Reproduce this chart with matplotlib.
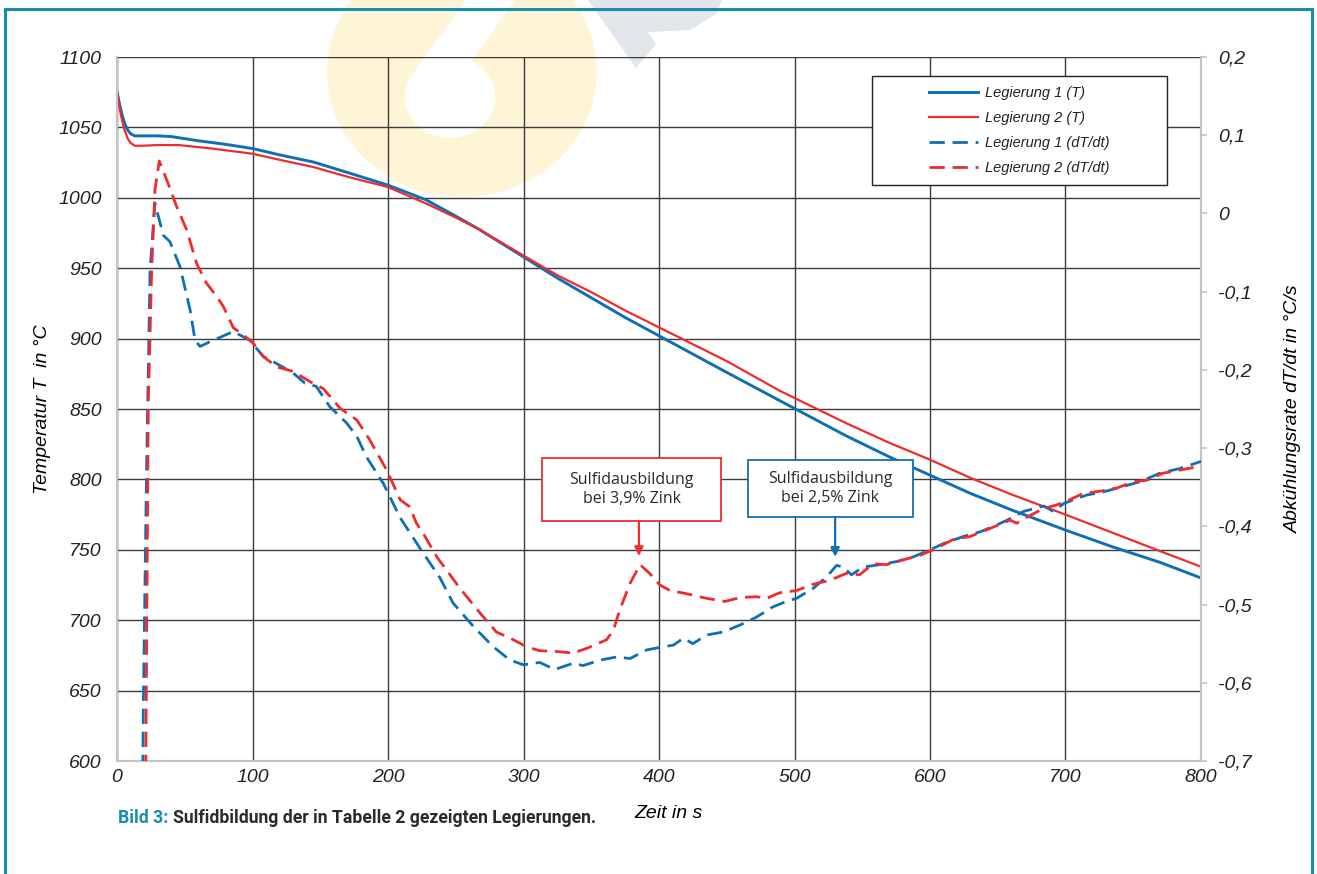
import matplotlib
matplotlib.use("Agg")
import matplotlib.pyplot as plt
from matplotlib.patches import Rectangle, Ellipse, Polygon
from matplotlib.lines import Line2D
from matplotlib.ticker import FuncFormatter

# Temperaturverlauf (linke Achse, °C)
t_T1 = [0, 2, 4, 6, 8, 10, 13, 20, 30, 40, 60, 80, 100, 120, 145, 170, 200, 228, 250, 267,
        300, 325, 350, 375, 400, 425, 450, 489, 538, 570, 600, 630, 661, 700, 735, 770, 800]
T1 = [1075.6, 1066, 1058, 1052, 1048, 1045.5, 1044, 1044, 1044, 1043.5, 1040.5, 1038, 1035,
      1030.5, 1025.4, 1018, 1009, 998.6, 987, 977.7, 958, 943, 929, 915, 902, 889, 876, 856,
      831, 816, 803, 790, 778, 764, 752, 741, 730]

t_T2 = [0, 2, 4, 6, 8, 10, 13, 20, 30, 46, 70, 100, 120, 145, 170, 200, 228, 250, 267,
        300, 325, 350, 375, 400, 425, 450, 489, 538, 570, 600, 630, 661, 700, 735, 770, 800]
T2 = [1074, 1063, 1054, 1047, 1042, 1039, 1037, 1037, 1037.5, 1037.4, 1035, 1031.3, 1027,
      1021.8, 1015, 1007.6, 996, 986, 977.7, 959, 945, 933, 920, 908, 896, 884, 863, 840,
      826, 814, 801, 789, 775, 762, 749, 738]

# Abkühlungsrate (rechte Achse, °C/s)
t_R1 = [18.6, 19.5, 21.8, 24.4, 28, 34.2, 39, 46.5, 53.9, 57.6, 61.3, 68.6, 85.8, 98, 108,
        117.9, 130, 138.7, 147, 157, 169.5, 177, 184, 196.5, 209, 223.6, 238.4, 248, 263,
        277.7, 290, 300, 312, 323, 336.7, 344, 356.5, 368.8, 378.6, 390.9, 403, 410.5, 418,
        425, 435, 447.5, 460, 472, 484, 494, 501.6, 514, 524, 531, 536, 542, 550.8, 563,
        575.4, 587.7, 600, 610, 624.6, 637, 647, 657, 669, 684, 691, 698.5, 706, 715.6,
        727.9, 742.7, 755, 769.7, 784.5, 800]
R1 = [-0.80, -0.62, -0.328, -0.072, 0.013, -0.028, -0.036, -0.068, -0.123, -0.162, -0.170,
      -0.164, -0.151, -0.162, -0.183, -0.192, -0.204, -0.217, -0.221, -0.247, -0.268, -0.285,
      -0.311, -0.345, -0.389, -0.428, -0.466, -0.498, -0.528, -0.554, -0.571, -0.577, -0.574,
      -0.583, -0.575, -0.578, -0.571, -0.567, -0.569, -0.558, -0.554, -0.552, -0.543, -0.550,
      -0.539, -0.535, -0.526, -0.516, -0.503, -0.496, -0.492, -0.479, -0.464, -0.450, -0.452,
      -0.462, -0.452, -0.449, -0.445, -0.439, -0.430, -0.422, -0.413, -0.407, -0.400, -0.392,
      -0.381, -0.374, -0.381, -0.371, -0.366, -0.360, -0.356, -0.349, -0.343, -0.332, -0.326,
      -0.317]

t_R2 = [20.8, 21.6, 23.1, 25.6, 28, 31.2, 36.7, 44, 51.4, 58.8, 66, 73.5, 78.5, 85.8, 93,
        100.6, 108, 117.8, 130, 142.4, 152.3, 164.6, 177, 186.7, 199, 209, 216, 221, 226,
        236, 253, 268, 280, 292.5, 302.3, 312, 324.5, 336.7, 346.6, 361.3, 366.3, 371, 378.6,
        386, 393, 400.7, 408, 420, 435, 448.7, 460, 472, 479.5, 489, 501.6, 514, 526, 538.5,
        548, 558, 568, 580, 592.6, 602.4, 617, 629.5, 644, 659, 664, 674, 684, 693, 703, 713,
        725.6, 738, 750, 760, 772, 784.5, 800]
R2 = [-0.80, -0.62, -0.243, -0.072, 0.030, 0.067, 0.043, 0.009, -0.021, -0.064, -0.089,
      -0.106, -0.119, -0.146, -0.155, -0.166, -0.183, -0.196, -0.202, -0.215, -0.224, -0.249,
      -0.264, -0.290, -0.328, -0.366, -0.375, -0.396, -0.409, -0.439, -0.479, -0.511, -0.535,
      -0.545, -0.554, -0.559, -0.560, -0.562, -0.556, -0.545, -0.533, -0.507, -0.473, -0.449,
      -0.460, -0.475, -0.482, -0.486, -0.492, -0.496, -0.491, -0.490, -0.492, -0.485, -0.482,
      -0.474, -0.469, -0.460, -0.462, -0.448, -0.449, -0.443, -0.437, -0.430, -0.417, -0.413,
      -0.403, -0.392, -0.396, -0.386, -0.377, -0.373, -0.366, -0.358, -0.355, -0.351, -0.343,
      -0.341, -0.332, -0.328, -0.323]

labels = ["Legierung 1 (T)", "Legierung 2 (T)", "Legierung 1 (dT/dt)", "Legierung 2 (dT/dt)"]

BLUE = "#0f6fb6"
RED = "#ee2c2f"
TEAL = "#1b8bae"
GRID = "#3c3c3c"
SPINE = "#c4c4c4"
DASH = (0, (5.5, 2.8))

plt.rcParams["font.family"] = ["Liberation Sans", "DejaVu Sans"]
plt.rcParams["font.style"] = "italic"
plt.rcParams["text.color"] = "#222222"
plt.rcParams["xtick.color"] = "#222222"
plt.rcParams["ytick.color"] = "#222222"

fig = plt.figure(figsize=(13.17, 8.74), dpi=100)

# watermark behind the chart (pixel coordinates)
bg = fig.add_axes([0, 0, 1, 1], zorder=-1)
bg.set_xlim(0, 1317)
bg.set_ylim(874, 0)
bg.axis("off")
bg.add_patch(Ellipse((462, 72), 270, 250, color="#fdf5d6", lw=0))
bg.add_patch(Ellipse((450, 97), 90, 82, color="white", lw=0))
bg.add_patch(Polygon([(414, 72), (455, 84), (515, 0), (466, 0)], closed=True, color="white", lw=0))
bg.add_patch(Polygon([(588, 0), (636, 68), (656, 44), (648, 32), (690, 30), (716, 14), (722, 0)],
                     closed=True, color="#e2e6ea", lw=0))

# teal frame
bg.plot([5, 1312], [9, 9], color=TEAL, lw=2.2, solid_capstyle="butt")
bg.plot([5, 5], [9, 880], color=TEAL, lw=2.2)
bg.plot([1312, 1312], [9, 880], color=TEAL, lw=2.2)

ax = fig.add_axes([0.08884, 0.12929, 0.82308, 0.80549])
ax.patch.set_alpha(0)
ax.plot(t_T1, T1, color=BLUE, lw=2.1, zorder=3)
ax.plot(t_T2, T2, color=RED, lw=1.6, zorder=3)
ax.set_xlim(0, 800)
ax.set_ylim(600, 1100)
ax.set_xticks(range(0, 801, 100))
ax.set_yticks(range(600, 1101, 50))
ax.grid(True, color=GRID, lw=1.0)
ax.set_axisbelow(True)
for s in ["left", "bottom", "right", "top"]:
    ax.spines[s].set_color(SPINE)
    ax.spines[s].set_linewidth(1.5)
ax.spines["top"].set_visible(False)
ax.tick_params(axis="y", length=0, pad=11, labelsize=14)
ax.tick_params(axis="x", length=0, pad=6, labelsize=14)

ax.set_xlabel("Zeit in s", fontsize=14)
ax.xaxis.set_label_coords(0.509, -0.062)
ax.set_ylabel("Temperatur T  in °C", fontsize=14)
ax.yaxis.set_label_coords(-0.069, 0.5)
ax.yaxis.label.set_va("center")

ax2 = ax.twinx()
ax2.plot(t_R1, R1, color=BLUE, lw=2.0, ls=DASH, zorder=3)
ax2.plot(t_R2, R2, color=RED, lw=2.0, ls=DASH, zorder=3)
ax2.set_ylim(-0.7, 0.2)
ax2.set_yticks([-0.7, -0.6, -0.5, -0.4, -0.3, -0.2, -0.1, 0.0, 0.1, 0.2])
ax2.yaxis.set_major_formatter(FuncFormatter(lambda v, p: "0" if abs(v) < 1e-9 else f"{v:.1f}".replace(".", ",")))
for s in ["left", "bottom", "right", "top"]:
    ax2.spines[s].set_color(SPINE)
    ax2.spines[s].set_linewidth(1.5)
ax2.spines["top"].set_visible(False)
ax2.tick_params(axis="y", length=4, width=1.2, color=SPINE, labelcolor="#222222", pad=8, labelsize=14)
ax2.set_ylabel("Abkühlungsrate dT/dt in °C/s", fontsize=14)
ax2.yaxis.set_label_coords(1.085, 0.5)
ax2.yaxis.label.set_va("center")

for a in (ax.xaxis, ax.yaxis, ax2.yaxis):
    for tk in a.get_major_ticks():
        tk.label1.set_fontstyle("italic")
        tk.label2.set_fontstyle("italic")

# callouts
boxes = [
    (313.7, 770.5, 132.1, 44.7, RED, "Sulfidausbildung\nbei 3,9% Zink", 385.2, 745.6),
    (465.4, 773.3, 121.8, 40.5, BLUE, "Sulfidausbildung\nbei 2,5% Zink", 530.0, 745.0),
]
for x0, y0, w, h, c, txt, xa, ya in boxes:
    ax.add_patch(Rectangle((x0, y0), w, h, facecolor="white", edgecolor=c, lw=1.3, zorder=4))
    ax.text(x0 + w / 2, y0 + h / 2, txt, ha="center", va="center", fontsize=11.5,
            family="Open Sans", style="normal", color="#2a2a2a", linespacing=1.2, zorder=5)
    ax.annotate("", xy=(xa, ya), xytext=(xa, y0),
                arrowprops=dict(arrowstyle="-|>", color=c, lw=1.6, mutation_scale=13,
                                shrinkA=0, shrinkB=0), zorder=5)

# legend with its own frame
ax2.add_patch(Rectangle((0.6965, 0.8182), 0.2721, 0.1548, transform=ax2.transAxes,
                        facecolor="white", edgecolor="#222222", lw=1.0, zorder=6))
handles = [
    Line2D([], [], color=BLUE, lw=2.1),
    Line2D([], [], color=RED, lw=1.6),
    Line2D([], [], color=BLUE, lw=2.0, ls=DASH),
    Line2D([], [], color=RED, lw=2.0, ls=DASH),
]
leg = ax2.legend(handles, labels, loc="center", bbox_to_anchor=(0.8325, 0.8956), frameon=False,
                 prop={"size": 10.5, "style": "italic"}, handlelength=3.3,
                 handletextpad=0.5, labelspacing=0.75)
leg.set_zorder(7)

# caption
cap1 = fig.text(118 / 1317, 1 - 818 / 874, "Bild 3:", color=TEAL, fontsize=12.7, family="Roboto",
                style="normal", weight="bold", va="center")
fig.canvas.draw()
bb = cap1.get_window_extent()
fig.text((bb.x1 + 5) / 1317, 1 - 818 / 874, "Sulfidbildung der in Tabelle 2 gezeigten Legierungen.",
         color="#2a2a2a", fontsize=12.7, family="Roboto", style="normal", weight="bold", va="center")

fig.savefig("out.png", dpi=100)
